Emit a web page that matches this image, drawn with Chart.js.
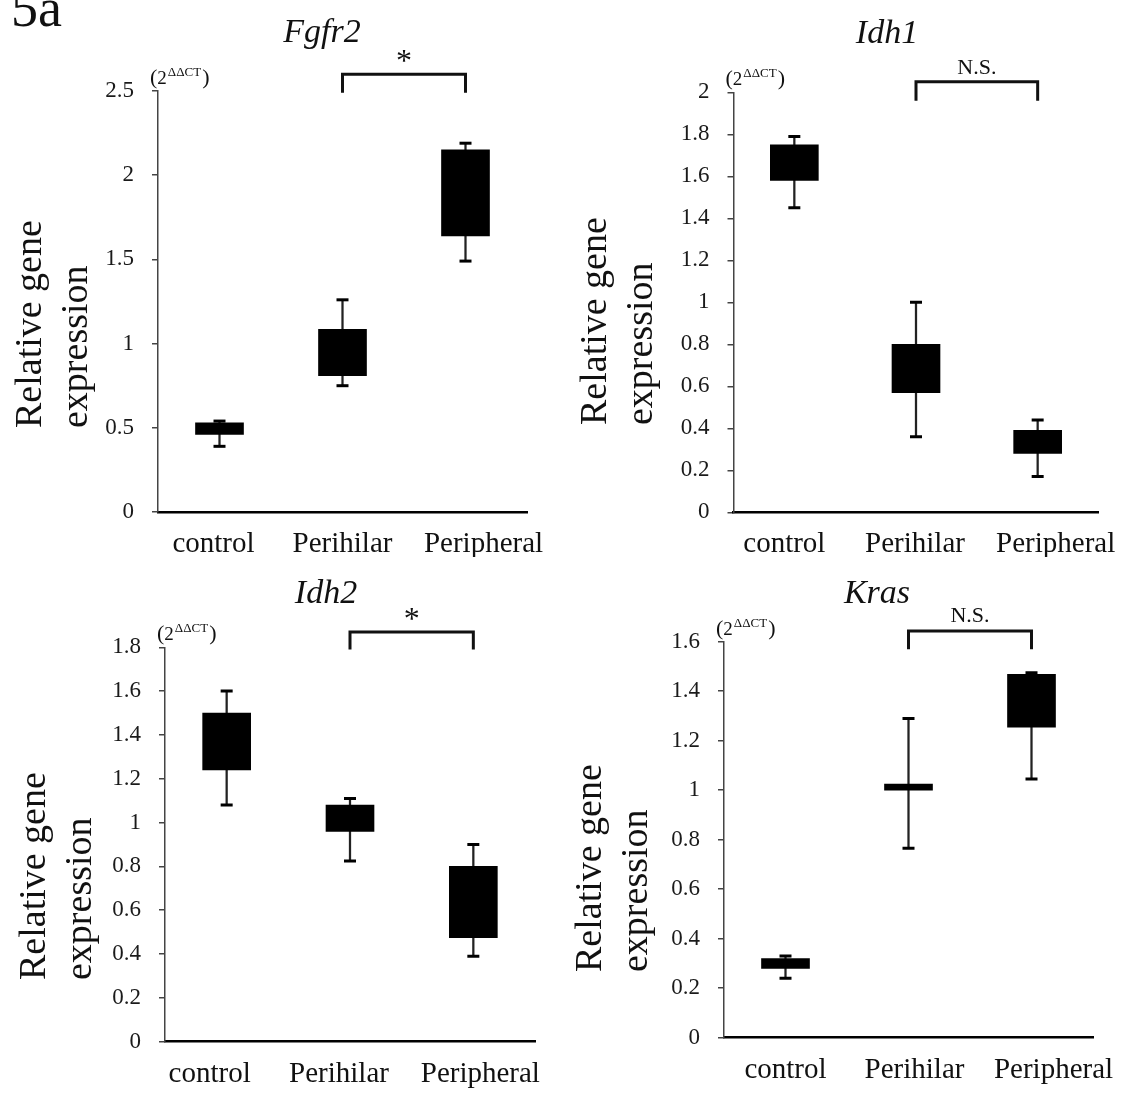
<!DOCTYPE html>
<html>
<head>
<meta charset="utf-8">
<title>Fig 5a - relative gene expression</title>
<script src="https://cdn.jsdelivr.net/npm/chart.js@4.4.1/dist/chart.umd.min.js"></script>
<style>
  html, body { margin: 0; padding: 0; background: #fff; }
  body { width: 1122px; height: 1114px; position: relative; overflow: hidden; font-family: 'Liberation Serif', 'Times New Roman', serif; }
  .panel { position: absolute; width: 561px; height: 557px; }
  #fig-label { position: absolute; left: 11px; top: -19px; font-size: 54px; line-height: 1; color: #111; }
</style>
</head>
<body>
<div id="fig-label">5a</div>
<div class="panel" style="left:0;top:0"><canvas id="fgfr2"></canvas></div>
<div class="panel" style="left:561px;top:0"><canvas id="idh1"></canvas></div>
<div class="panel" style="left:0;top:557px"><canvas id="idh2"></canvas></div>
<div class="panel" style="left:561px;top:557px"><canvas id="kras"></canvas></div>
<script>
const categories = ['control', 'Perihilar', 'Peripheral'];

// Fgfr2
const fgfr2Min = [0.39, 0.75, 1.49];
const fgfr2Q1  = [0.46, 0.81, 1.64];
const fgfr2Q3  = [0.53, 1.085, 2.15];
const fgfr2Max = [0.54, 1.26, 2.19];
const fgfr2Ticks = [0, 0.5, 1, 1.5, 2, 2.5];

// Idh1
const idh1Min = [1.45, 0.36, 0.17];
const idh1Q1  = [1.58, 0.57, 0.28];
const idh1Q3  = [1.75, 0.80, 0.39];
const idh1Max = [1.79, 1.0, 0.44];
const idh1Ticks = [0, 0.2, 0.4, 0.6, 0.8, 1, 1.2, 1.4, 1.6, 1.8, 2];

// Idh2
const idh2Min = [1.08, 0.825, 0.39];
const idh2Q1  = [1.24, 0.96, 0.475];
const idh2Q3  = [1.50, 1.08, 0.80];
const idh2Max = [1.60, 1.11, 0.90];
const idh2Ticks = [0, 0.2, 0.4, 0.6, 0.8, 1, 1.2, 1.4, 1.6, 1.8];

// Kras
const krasMin = [0.24, 0.765, 1.045];
const krasQ1  = [0.28, 1.0, 1.255];
const krasQ3  = [0.32, 1.025, 1.468];
const krasMax = [0.33, 1.29, 1.475];
const krasTicks = [0, 0.2, 0.4, 0.6, 0.8, 1, 1.2, 1.4, 1.6];

const serif = "'Liberation Serif', 'Times New Roman', serif";

// gene name, units, y title, significance bracket and category labels
const panelDeco = {
  id: 'panelDeco',
  afterDraw(chart, args, opts) {
    const { ctx, chartArea: area, scales: { x, y } } = chart;
    ctx.save();
    ctx.fillStyle = '#111';
    ctx.strokeStyle = '#111';
    ctx.textBaseline = 'alphabetic';

    ctx.font = `italic 34px ${serif}`;
    ctx.textAlign = 'center';
    ctx.fillText(opts.gene, opts.geneX, opts.geneY);

    // (2^ΔΔCT)
    let ux = area.left - 8;
    const uy = area.top - 7;
    ctx.textAlign = 'left';
    ctx.font = `22px ${serif}`;
    ctx.fillText('(', ux, uy);
    ux += ctx.measureText('(').width;
    ctx.font = `19px ${serif}`;
    ctx.fillText('2', ux, uy);
    ux += ctx.measureText('2').width + 1;
    ctx.font = `13px ${serif}`;
    ctx.fillText('\u0394\u0394CT', ux, uy - 8);
    ux += ctx.measureText('\u0394\u0394CT').width + 1;
    ctx.font = `22px ${serif}`;
    ctx.fillText(')', ux, uy);

    // rotated y title
    ctx.save();
    ctx.translate(opts.yTitleX, opts.yTitleBottom);
    ctx.rotate(-Math.PI / 2);
    ctx.font = `38px ${serif}`;
    ctx.textAlign = 'left';
    ctx.textBaseline = 'middle';
    ctx.fillText('Relative gene', 0, 0);
    ctx.fillText('expression', 0, 46);
    ctx.restore();

    // bracket between Perihilar and Peripheral
    const x1 = x.getPixelForValue(1);
    const x2 = x.getPixelForValue(2);
    const yTop = y.getPixelForValue(opts.bracketTop);
    const yFoot = y.getPixelForValue(opts.bracketFoot);
    ctx.lineWidth = 3;
    ctx.beginPath();
    ctx.moveTo(x1, yFoot);
    ctx.lineTo(x1, yTop);
    ctx.lineTo(x2, yTop);
    ctx.lineTo(x2, yFoot);
    ctx.stroke();
    ctx.textAlign = 'center';
    ctx.font = opts.sig === '*' ? `32px ${serif}` : `22px ${serif}`;
    ctx.fillText(opts.sig, (x1 + x2) / 2, yTop - opts.sigGap);

    // category labels
    ctx.font = `29px ${serif}`;
    categories.forEach((c, i) => {
      ctx.fillText(c, x.getPixelForValue(i) + opts.labelShift[i], area.bottom + 40);
    });
    ctx.restore();
  }
};

function boxPanel(id, mins, q1s, q3s, maxs, ticks, deco) {
  new Chart(document.getElementById(id), {
    type: 'bar',
    data: {
      labels: categories,
      datasets: [
        { data: mins.map((v, i) => [v, maxs[i]]), backgroundColor: '#222', barThickness: 1.6, grouped: false, order: 3 },
        { data: q1s.map((v, i) => [v, q3s[i]]), backgroundColor: '#000', barThickness: 48, grouped: false, order: 1 },
        { type: 'line', data: mins, showLine: false, pointStyle: 'line', pointRadius: 6, pointBorderWidth: 3, pointBorderColor: '#000', order: 2 },
        { type: 'line', data: maxs, showLine: false, pointStyle: 'line', pointRadius: 6, pointBorderWidth: 3, pointBorderColor: '#000', order: 2 }
      ]
    },
    options: {
      responsive: true,
      maintainAspectRatio: false,
      animation: false,
      events: [],
      layout: { padding: { top: deco.top, right: deco.right, bottom: 0, left: 0 } },
      plugins: { legend: { display: false }, tooltip: { enabled: false }, panelDeco: deco },
      scales: {
        x: {
          grid: { display: false, drawTicks: false },
          border: { color: '#000', width: 2.5 },
          ticks: { display: false },
          afterFit: s => { s.height = deco.xHeight; }
        },
        y: {
          min: 0,
          max: ticks[ticks.length - 1],
          afterBuildTicks: s => { s.ticks = ticks.map(v => ({ value: v })); },
          grid: { drawOnChartArea: false, drawTicks: true, tickLength: 6, color: '#444', lineWidth: 1.5 },
          border: { color: '#444', width: 1.5 },
          ticks: { padding: 18, color: '#1a1a1a', font: { family: serif, size: 23 }, callback: v => String(v) },
          afterFit: s => { s.width = deco.yWidth; }
        }
      }
    },
    plugins: [panelDeco]
  });
}

boxPanel('fgfr2', fgfr2Min, fgfr2Q1, fgfr2Q3, fgfr2Max, fgfr2Ticks, {
  yWidth: 158, top: 91, right: 34, xHeight: 45,
  gene: 'Fgfr2', geneX: 322, geneY: 42,
  yTitleX: 31, yTitleBottom: 428,
  sig: '*', bracketTop: 2.60, bracketFoot: 2.49, sigGap: 3,
  labelShift: [-6, 0, 18]
});

boxPanel('idh1', idh1Min, idh1Q1, idh1Q3, idh1Max, idh1Ticks, {
  yWidth: 172.5, top: 92.3, right: 23.5, xHeight: 44.7,
  gene: 'Idh1', geneX: 326, geneY: 43,
  yTitleX: 35, yTitleBottom: 425,
  sig: 'N.S.', bracketTop: 2.05, bracketFoot: 1.96, sigGap: 8,
  labelShift: [-10, -1, 18]
});

boxPanel('idh2', idh2Min, idh2Q1, idh2Q3, idh2Max, idh2Ticks, {
  yWidth: 165, top: 90.3, right: 26, xHeight: 72.3,
  gene: 'Idh2', geneX: 326, geneY: 46,
  yTitleX: 35, yTitleBottom: 423,
  sig: '*', bracketTop: 1.87, bracketFoot: 1.79, sigGap: 3,
  labelShift: [-17, -11, 7]
});

boxPanel('kras', krasMin, krasQ1, krasQ3, krasMax, krasTicks, {
  yWidth: 163, top: 84.7, right: 29, xHeight: 76.3,
  gene: 'Kras', geneX: 316, geneY: 46,
  yTitleX: 30, yTitleBottom: 415,
  sig: 'N.S.', bracketTop: 1.643, bracketFoot: 1.57, sigGap: 9,
  labelShift: [0, 6, 22]
});
</script>
</body>
</html>
